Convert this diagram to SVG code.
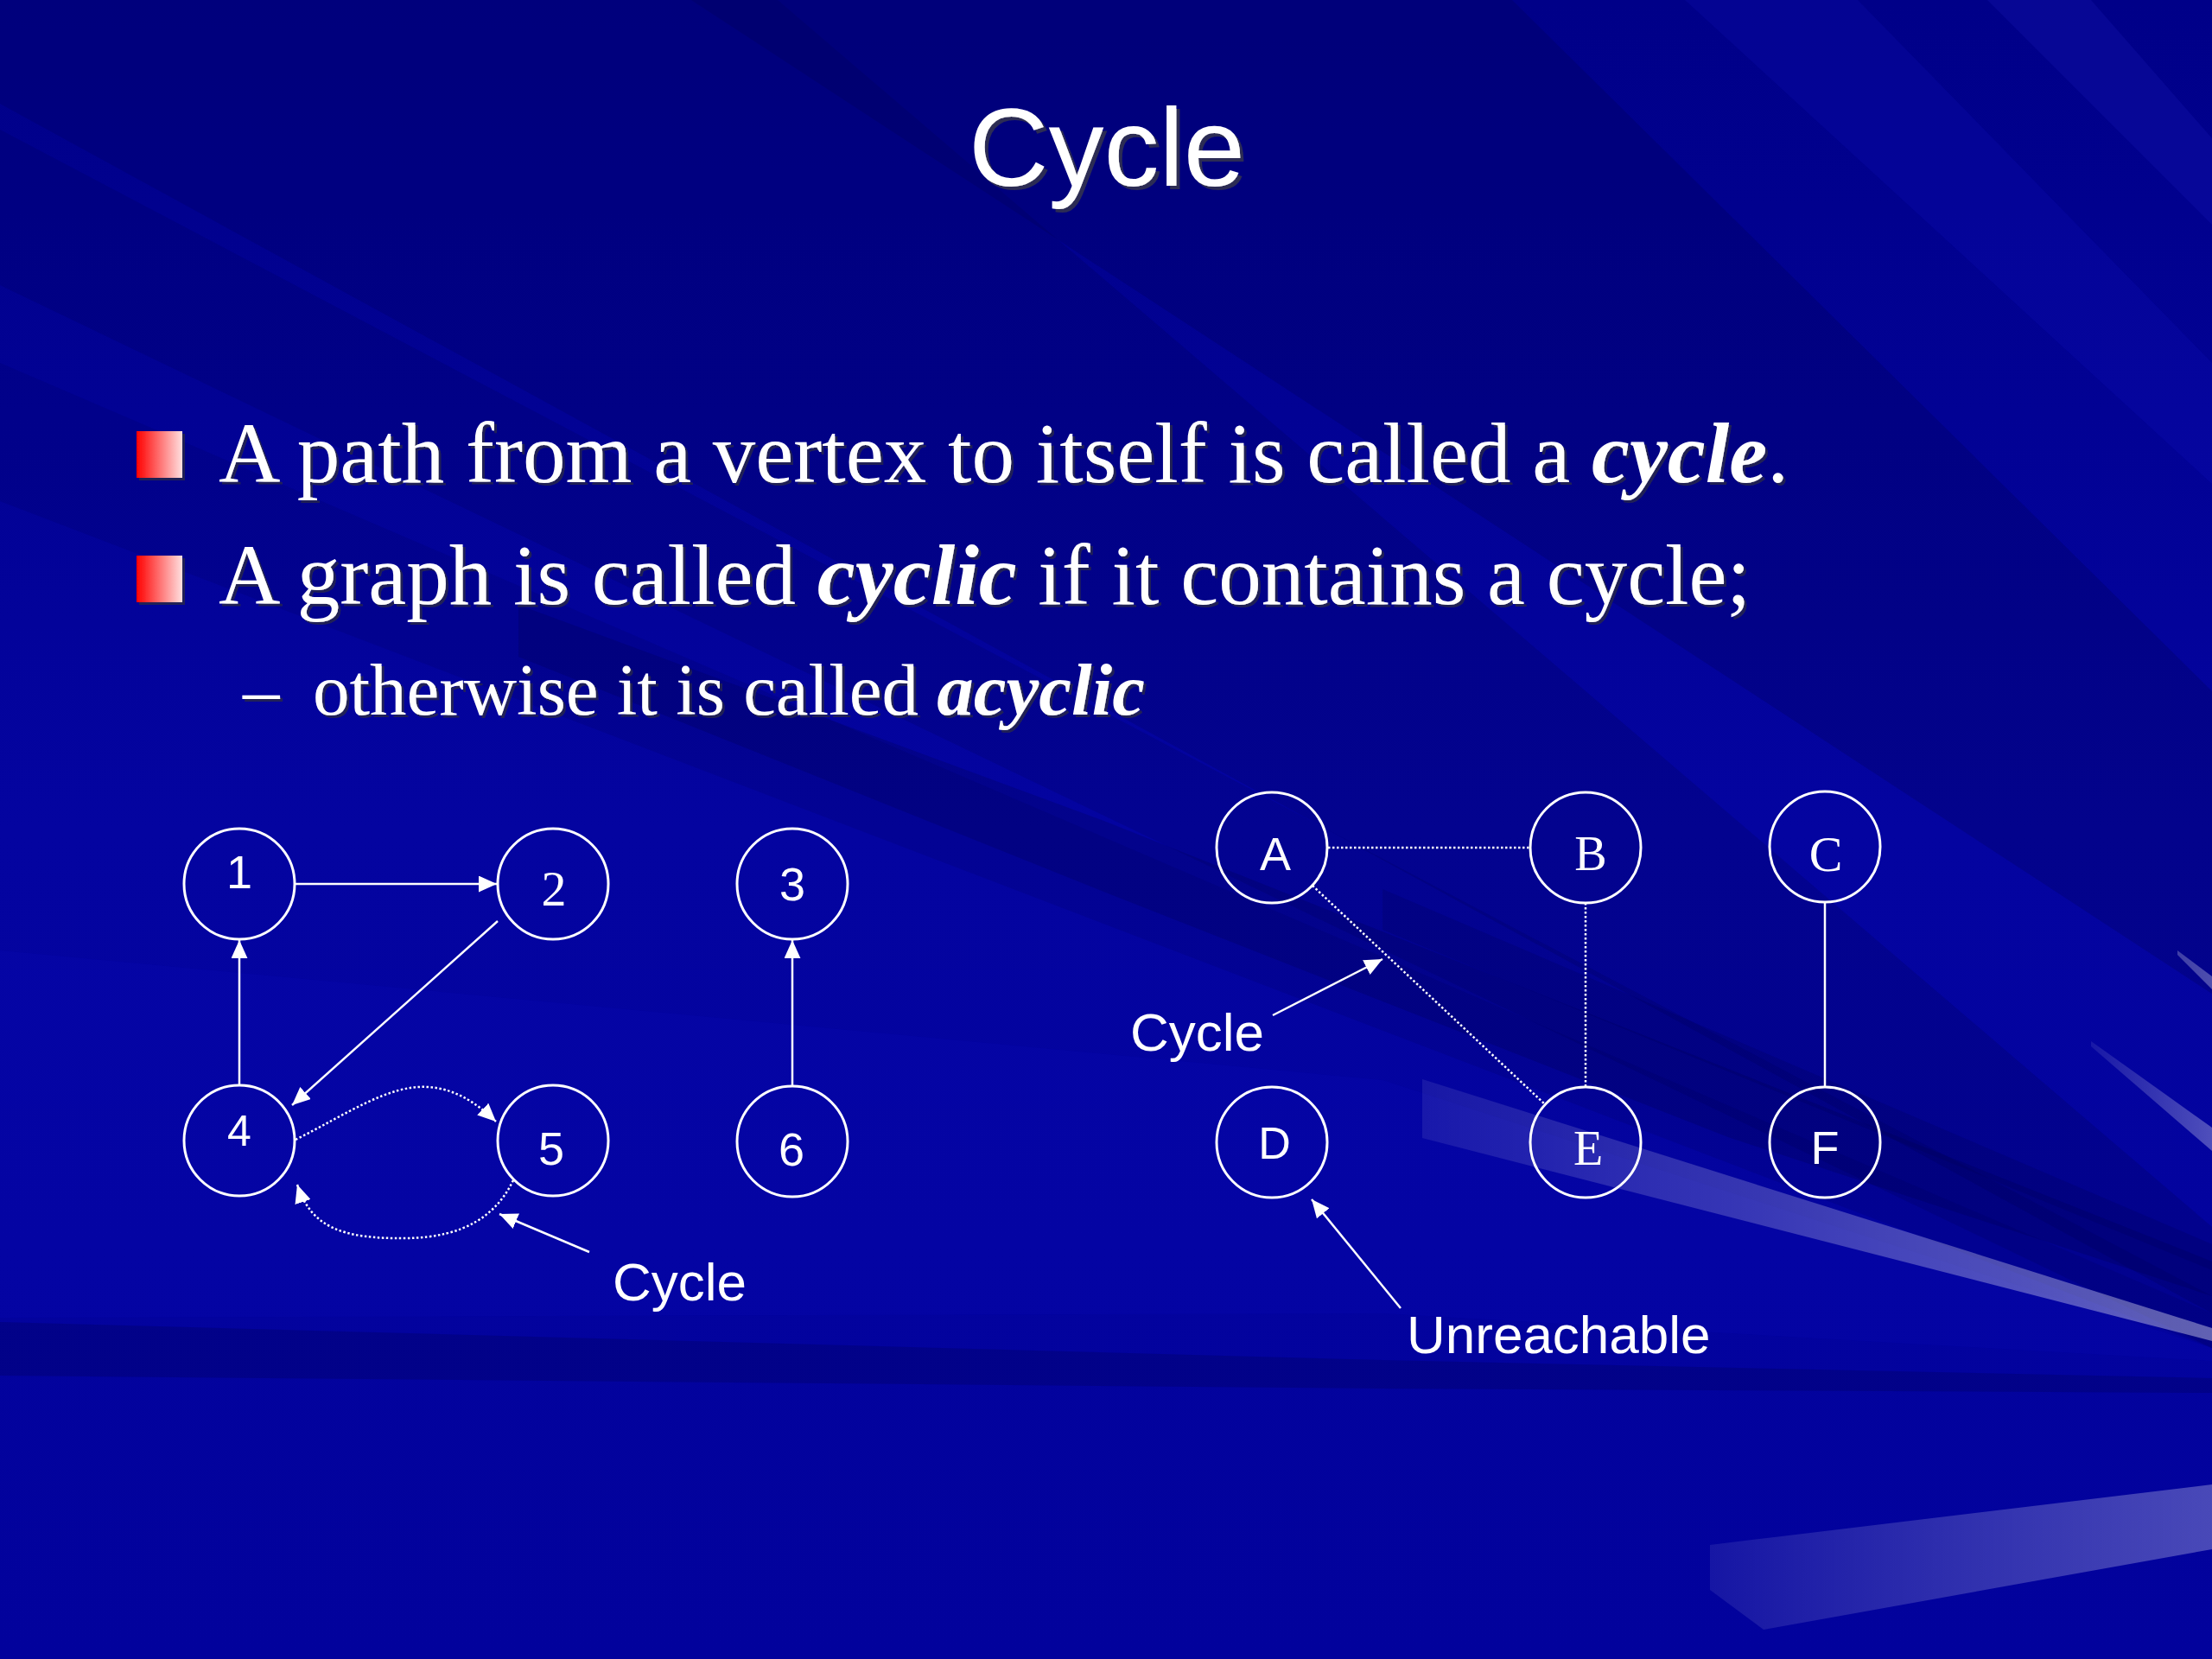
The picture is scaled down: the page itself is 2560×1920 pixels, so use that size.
<svg xmlns="http://www.w3.org/2000/svg" width="2560" height="1920" viewBox="0 0 2560 1920">
<defs>
<style>
.sans{font-family:"Liberation Sans",Arial,sans-serif;fill:#fff}
.serif{font-family:"Liberation Serif","Times New Roman",serif;fill:#fff}
.bi{font-weight:bold;font-style:italic}
.node{fill:none;stroke:#fff;stroke-width:3}
.edge{fill:none;stroke:#fff;stroke-width:2.5}
.dot{fill:none;stroke:#fff;stroke-width:2.5;stroke-dasharray:2.5 2.5}
.nl{text-anchor:middle}
</style>
<marker id="arrow" viewBox="0 0 20 18" refX="20" refY="9" markerWidth="21" markerHeight="19" markerUnits="userSpaceOnUse" orient="auto">
<path d="M0,0 L20,9 L0,18 z" fill="#fff"/>
</marker>
<filter id="shadow" x="-5%" y="-20%" width="110%" height="140%">
<feOffset in="SourceAlpha" dx="3" dy="3" result="o"/>
<feFlood flood-color="#262650" flood-opacity="0.9"/>
<feComposite in2="o" operator="in" result="s"/>
<feMerge><feMergeNode in="s"/><feMergeNode in="SourceGraphic"/></feMerge>
</filter>
<filter id="shadowT" x="-5%" y="-20%" width="110%" height="140%">
<feOffset in="SourceAlpha" dx="4" dy="4" result="o"/>
<feFlood flood-color="#303050" flood-opacity="0.9"/>
<feComposite in2="o" operator="in" result="s"/>
<feMerge><feMergeNode in="s"/><feMergeNode in="SourceGraphic"/></feMerge>
</filter>
<linearGradient id="bul" x1="0" y1="0" x2="1" y2="0">
<stop offset="0" stop-color="#ff0000"/>
<stop offset="1" stop-color="#ffe0e0"/>
</linearGradient>
<linearGradient id="streak1" gradientUnits="userSpaceOnUse" x1="1646" y1="0" x2="2560" y2="0">
<stop offset="0" stop-color="#ffffff" stop-opacity="0.08"/>
<stop offset="1" stop-color="#ffffff" stop-opacity="0.38"/>
</linearGradient>
<linearGradient id="streak2" gradientUnits="userSpaceOnUse" x1="1980" y1="0" x2="2560" y2="0">
<stop offset="0" stop-color="#ffffff" stop-opacity="0.08"/>
<stop offset="1" stop-color="#ffffff" stop-opacity="0.28"/>
</linearGradient>
<linearGradient id="streak3" gradientUnits="userSpaceOnUse" x1="2400" y1="0" x2="2560" y2="0">
<stop offset="0" stop-color="#ffffff" stop-opacity="0.05"/>
<stop offset="1" stop-color="#ffffff" stop-opacity="0.3"/>
</linearGradient>
<linearGradient id="bgv" x1="0" y1="0" x2="0" y2="1">
<stop offset="0" stop-color="#000088"/>
<stop offset="0.5" stop-color="#0404a0"/>
<stop offset="1" stop-color="#02029c"/>
</linearGradient>
</defs>

<g id="background">
<rect x="0" y="0" width="2560" height="1920" fill="url(#bgv)"/>
<polygon points="0,0 900,0 2560,1420 2560,1520 0,120" fill="#000050" opacity="0.22"/>
<polygon points="0,150 0,330 2560,1560 2560,1500" fill="#000050" opacity="0.18"/>
<polygon points="800,0 1750,0 2560,800 2560,1150" fill="#000050" opacity="0.25"/>
<polygon points="0,420 0,580 2560,1560 2560,1520" fill="#000050" opacity="0.15"/>
<polygon points="1280,951 2000,1237 2560,1460 2560,1500 2000,1316 1280,1033 600,760 600,700" fill="#000050" opacity="0.25"/>
<polygon points="1600,1029 2560,1440 2560,1470 1600,1076" fill="#000050" opacity="0.2"/>
<polygon points="0,1530 1600,1574 2560,1595 2560,1612 1600,1607 0,1592" fill="#000040" opacity="0.22"/>
<polygon points="0,1100 1600,1250 2560,1560 2560,1575 1600,1520 0,1525" fill="#2020ff" opacity="0.06"/>
<polygon points="1950,0 2150,0 2560,420 2560,560" fill="#3030ff" opacity="0.09"/>
<polygon points="2300,0 2420,0 2560,160 2560,260" fill="#4040ff" opacity="0.1"/>
<polygon points="1646,1249 2560,1537 2560,1552 1646,1317" fill="url(#streak1)"/>
<polygon points="1979,1788 2560,1718 2560,1793 2041,1886 1979,1840" fill="url(#streak2)"/>
<polygon points="2420,1205 2560,1305 2560,1332 2420,1211" fill="url(#streak3)"/>
<polygon points="2520,1100 2560,1130 2560,1145 2520,1105" fill="url(#streak3)"/>
</g>

<g id="title">
<text class="sans" x="1281" y="215" font-size="128" text-anchor="middle" filter="url(#shadowT)">Cycle</text>
</g>

<g id="bullets">
<g filter="url(#shadow)">
<rect x="158" y="499" width="53" height="54" fill="url(#bul)"/>
<rect x="158" y="643" width="53" height="54" fill="url(#bul)"/>
<text class="serif" x="253" y="558" font-size="99">A path from a vertex to itself is called a <tspan class="bi">cycle</tspan>.</text>
<text class="serif" x="253" y="699" font-size="99">A graph is called <tspan class="bi">cyclic</tspan> if it contains a cycle;</text>
<text class="serif" x="281" y="827" font-size="85">–</text>
<text class="serif" x="362" y="827" font-size="85">otherwise it is called <tspan class="bi">acyclic</tspan></text>
</g>
</g>

<g id="connectors">
<path class="edge" d="M342,1023 L575,1023" marker-end="url(#arrow)"/>
<path class="edge" d="M277,1256 L277,1088" marker-end="url(#arrow)"/>
<path class="edge" d="M576,1066 L338,1279" marker-end="url(#arrow)"/>
<path class="edge" d="M917,1256 L917,1088" marker-end="url(#arrow)"/>
<path class="dot" d="M342,1319 C400,1290 450,1255 495,1258 C530,1260 555,1280 574,1298" marker-end="url(#arrow)"/>
<path class="dot" d="M594,1366 C575,1405 540,1432 470,1433 C395,1434 360,1420 344,1371" marker-end="url(#arrow)"/>
<path class="dot" d="M1537,981 L1770,981"/>
<path class="dot" d="M1519,1025 L1788,1278"/>
<path class="dot" d="M1835,1045 L1835,1258"/>
<path class="edge" d="M2112,1044 L2112,1258"/>
</g>

<g id="node-1"><circle class="node" cx="277" cy="1023" r="64"/><text class="sans nl" x="277" y="1028" font-size="54">1</text></g>
<g id="node-2"><circle class="node" cx="640" cy="1023" r="64"/><text class="serif nl" x="641" y="1048" font-size="58">2</text></g>
<g id="node-3"><circle class="node" cx="917" cy="1023" r="64"/><text class="sans nl" x="917" y="1042" font-size="54">3</text></g>
<g id="node-4"><circle class="node" cx="277" cy="1320" r="64"/><text class="sans nl" x="277" y="1326" font-size="50">4</text></g>
<g id="node-5"><circle class="node" cx="640" cy="1320" r="64"/><text class="sans nl" x="638" y="1348" font-size="54">5</text></g>
<g id="node-6"><circle class="node" cx="917" cy="1321" r="64"/><text class="sans nl" x="916" y="1349" font-size="54">6</text></g>
<g id="node-A"><circle class="node" cx="1472" cy="981" r="64"/><text class="sans nl" x="1476" y="1007" font-size="54">A</text></g>
<g id="node-B"><circle class="node" cx="1835" cy="981" r="64"/><text class="serif nl" x="1841" y="1007" font-size="56">B</text></g>
<g id="node-C"><circle class="node" cx="2112" cy="980" r="64"/><text class="serif nl" x="2113" y="1008" font-size="58">C</text></g>
<g id="node-D"><circle class="node" cx="1472" cy="1322" r="64"/><text class="sans nl" x="1475" y="1341" font-size="52">D</text></g>
<g id="node-E"><circle class="node" cx="1835" cy="1322" r="64"/><text class="serif nl" x="1838" y="1348" font-size="56">E</text></g>
<g id="node-F"><circle class="node" cx="2112" cy="1322" r="64"/><text class="sans nl" x="2112" y="1347" font-size="54">F</text></g>

<g id="annotations">
<path class="edge" d="M682,1449 L578,1405" marker-end="url(#arrow)"/>
<text class="sans" x="709" y="1505" font-size="62">Cycle</text>
<path class="edge" d="M1473,1175 L1600,1110" marker-end="url(#arrow)"/>
<text class="sans" x="1308" y="1216" font-size="62">Cycle</text>
<path class="edge" d="M1621,1514 L1518,1388" marker-end="url(#arrow)"/>
<text class="sans" x="1628" y="1566" font-size="62">Unreachable</text>
</g>
</svg>
